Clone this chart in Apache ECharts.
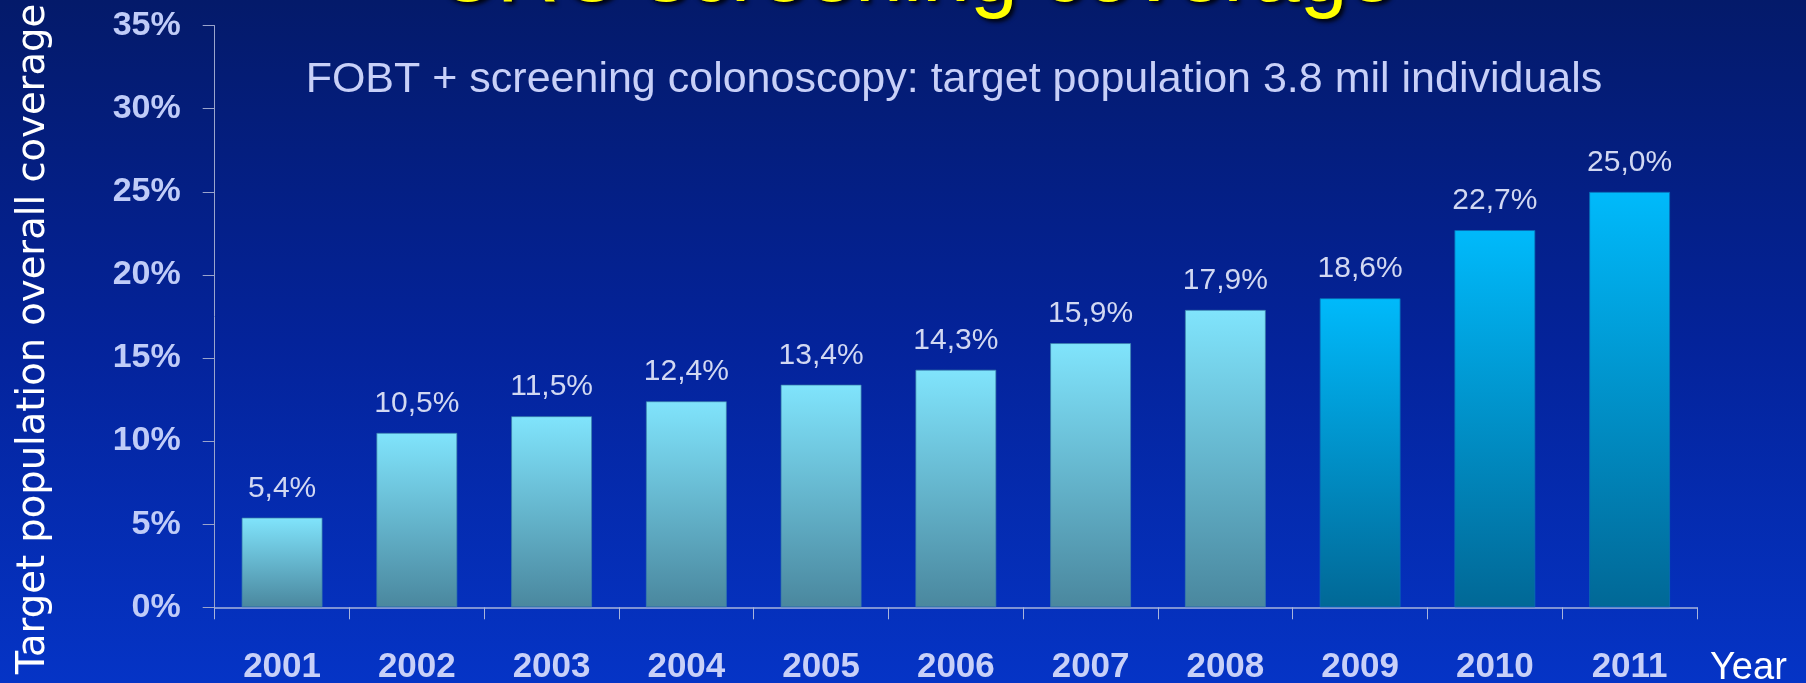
<!DOCTYPE html>
<html>
<head>
<meta charset="utf-8">
<script src="https://cdn.jsdelivr.net/npm/echarts@6/dist/echarts.min.js"></script>
<style>
html,body{margin:0;padding:0;}
#chart{width:1806px;height:683px;background:linear-gradient(to bottom,#041a6a 0%,#04239a 50%,#0534c6 100%);}
</style>
</head>
<body>
<div id="chart"></div>
<script>
const titleText = 'CRC screening coverage';
const subtitleText = 'FOBT + screening colonoscopy: target population 3.8 mil individuals';
const yAxisTitle = 'Target population overall coverage';
const xAxisTitle = 'Year';
const years = ['2001','2002','2003','2004','2005','2006','2007','2008','2009','2010','2011'];
const coverage = [5.4, 10.5, 11.5, 12.4, 13.4, 14.3, 15.9, 17.9, 18.6, 22.7, 25.0];
const yTicks = [0, 5, 10, 15, 20, 25, 30, 35];

const lightGrad = {type:'linear',x:0,y:0,x2:0,y2:1,colorStops:[{offset:0,color:'#80e4fc'},{offset:1,color:'#4a879e'}]};
const darkGrad = {type:'linear',x:0,y:0,x2:0,y2:1,colorStops:[{offset:0,color:'#00bafb'},{offset:1,color:'#016896'}]};

const chart = echarts.init(document.getElementById('chart'), null, {renderer:'canvas'});
const option = {
  backgroundColor: 'transparent',
  animation: false,
  grid: {left: 214.7, right: 109, top: 25.6, bottom: 75.7, containLabel: false, outerBoundsMode: 'none'},
  graphic: [
    {type:'text', x:915, y:-23, silent:true,
     style:{text:titleText, x:0, y:0, fill:'#ffff00', font:'86px "Liberation Sans", Arial, sans-serif',
            align:'center', verticalAlign:'middle', textShadowColor:'rgba(0,0,0,0.9)', textShadowBlur:4,
            textShadowOffsetX:3, textShadowOffsetY:3}},
    {type:'text', x:954, y:80, silent:true,
     style:{text:subtitleText, fill:'#c8d0f8', font:'43px "Liberation Sans", Arial, sans-serif',
            align:'center', verticalAlign:'middle'}},
    {type:'text', x:34, y:339, rotation:Math.PI/2, silent:true,
     style:{text:yAxisTitle, fill:'#ffffff', font:'38.5px "DejaVu Sans", sans-serif',
            align:'center', verticalAlign:'middle'}}
  ],
  xAxis: {
    type:'category', data: years, boundaryGap:true,
    name: xAxisTitle, nameLocation:'end', nameGap:13,
    nameTextStyle:{color:'#ffffff', fontSize:38, fontFamily:'"Liberation Sans", Arial, sans-serif',
                   verticalAlign:'top', align:'left', padding:[42,0,0,0]},
    axisLine:{show:true, lineStyle:{color:'#a8b4dc', width:1.5}},
    axisTick:{show:true, length:12, inside:false, alignWithLabel:false, lineStyle:{color:'#a8b4dc', width:1}},
    axisLabel:{color:'#c8d0f8', fontSize:35, fontWeight:'bold', fontFamily:'"Liberation Sans", Arial, sans-serif', margin:43},
    splitLine:{show:false}
  },
  yAxis: {
    type:'value', min:yTicks[0], max:yTicks[yTicks.length-1], interval:yTicks[1]-yTicks[0],
    axisLine:{show:true, lineStyle:{color:'#9aa4cc', width:1}},
    axisTick:{show:true, length:12, inside:false, lineStyle:{color:'#9aa4cc', width:1}},
    axisLabel:{color:'#c0ccf8', fontSize:34, fontWeight:'bold', fontFamily:'"Liberation Sans", Arial, sans-serif',
               margin:34, formatter: v => v + '%'},
    splitLine:{show:false}
  },
  series: [{
    type:'bar',
    barWidth:81,
    data: coverage.map((v, i) => ({
      value: v,
      itemStyle: {
        color: Number(years[i]) >= 2009 ? darkGrad : lightGrad,
        borderColor: Number(years[i]) >= 2009 ? 'rgba(10,110,180,0.8)' : 'rgba(60,130,170,0.7)',
        borderWidth: 1
      }
    })),
    label:{
      show:true, position:'top', distance:14,
      color:'#d2d8f2', fontSize:30, fontFamily:'"Liberation Sans", Arial, sans-serif',
      formatter: p => p.value.toFixed(1).replace('.', ',') + '%'
    }
  }]
};
chart.setOption(option);
</script>
</body>
</html>
